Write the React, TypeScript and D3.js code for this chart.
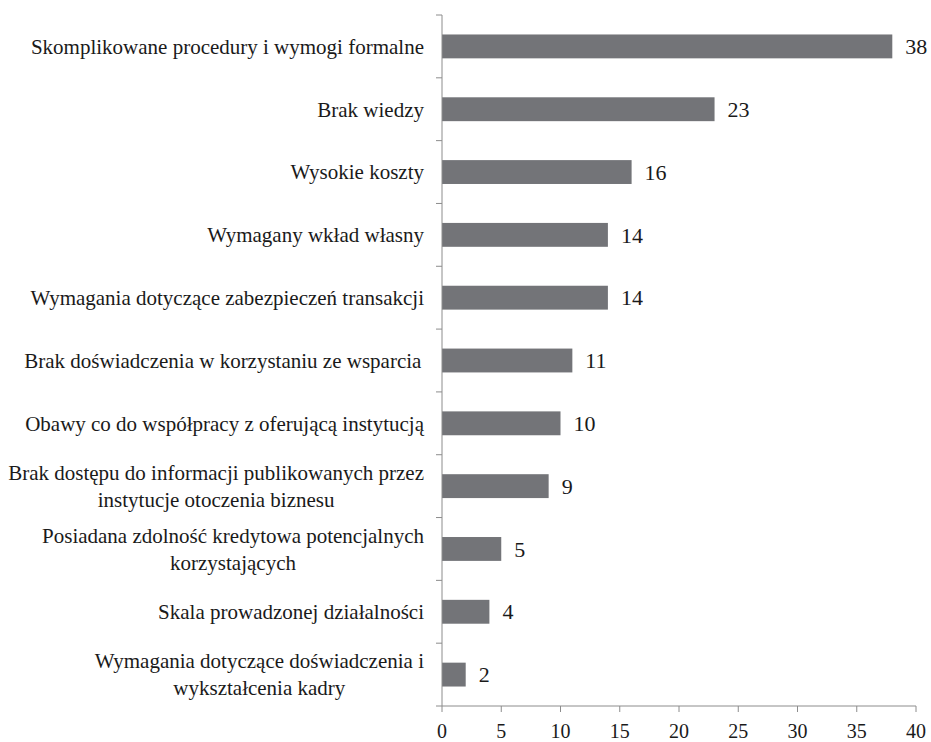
import { useMemo } from "react";
import * as d3 from "d3";

const categories = [
  ["Skomplikowane procedury i wymogi formalne"],
  ["Brak wiedzy"],
  ["Wysokie koszty"],
  ["Wymagany wkład własny"],
  ["Wymagania dotyczące zabezpieczeń transakcji"],
  ["Brak doświadczenia w  korzystaniu ze wsparcia"],
  ["Obawy co do współpracy z oferującą instytucją"],
  ["Brak dostępu do informacji publikowanych przez", "instytucje otoczenia biznesu"],
  ["Posiadana zdolność kredytowa potencjalnych", "korzystających"],
  ["Skala prowadzonej działalności"],
  ["Wymagania dotyczące doświadczenia i", "wykształcenia kadry"],
];
const values = [38, 23, 16, 14, 14, 11, 10, 9, 5, 4, 2];
const xTicks = [0, 5, 10, 15, 20, 25, 30, 35, 40];

const FONT = "Liberation Serif, Tinos, Times New Roman, DejaVu Serif, serif";
const LABEL_SIZE = 21;
const WIDTH = 931;
const HEIGHT = 742;
const MARGIN = { top: 15, left: 442, right: 15, bottom: 36 };

function measure(text: string, size: number) {
  const ctx = document.createElement("canvas").getContext("2d");
  if (!ctx) return text.length * size * 0.45;
  ctx.font = `${size}px ${FONT}`;
  return ctx.measureText(text).width;
}

export default function App() {
  const x = d3.scaleLinear().domain([0, 40]).range([MARGIN.left, WIDTH - MARGIN.right]);
  const y = d3
    .scaleBand<number>()
    .domain(d3.range(categories.length))
    .range([MARGIN.top, HEIGHT - MARGIN.bottom])
    .paddingInner(0.62)
    .paddingOuter(0.31);
  const step = y.step();
  const top = MARGIN.top;
  const bottom = HEIGHT - MARGIN.bottom;

  const labelWidths = useMemo(
    () => categories.map((lines) => Math.max(...lines.map((l) => measure(l, LABEL_SIZE)))),
    []
  );

  const labelRight = MARGIN.left - 18;
  const lineH = 27;

  return (
    <svg width={WIDTH} height={HEIGHT} style={{ position: "absolute", left: 0, top: 0, background: "#fff" }}>
      {/* bars */}
      {values.map((v, i) => (
        <g key={i}>
          <rect x={x(0)} y={y(i)} width={x(v) - x(0)} height={y.bandwidth()} fill="#737478" />
          <text
            x={x(v) + 13}
            y={(y(i) ?? 0) + y.bandwidth() / 2}
            dy="0.35em"
            fontFamily={FONT}
            fontSize={22}
            fill="#1a1a1a"
          >
            {v}
          </text>
        </g>
      ))}

      {/* category labels */}
      {categories.map((lines, i) => {
        const cy = (y(i) ?? 0) + y.bandwidth() / 2;
        const w = labelWidths[i];
        const cx = labelRight - w / 2;
        const start = cy - ((lines.length - 1) * lineH) / 2;
        return (
          <text key={i} fontFamily={FONT} fontSize={LABEL_SIZE} fill="#1a1a1a" textAnchor="middle">
            {lines.map((l, j) => (
              <tspan key={j} x={cx} y={start + j * lineH} dy="0.35em">
                {l}
              </tspan>
            ))}
          </text>
        );
      })}

      {/* y axis */}
      <line x1={x(0)} x2={x(0)} y1={top} y2={bottom} stroke="#8c8c8c" strokeWidth={1} />
      {d3.range(categories.length + 1).map((i) => (
        <line
          key={i}
          x1={x(0) - 6}
          x2={x(0)}
          y1={top + i * step}
          y2={top + i * step}
          stroke="#8c8c8c"
        />
      ))}

      {/* x axis */}
      <line x1={x(0)} x2={x(40)} y1={bottom} y2={bottom} stroke="#8c8c8c" />
      {xTicks.map((t) => (
        <g key={t}>
          <line x1={x(t)} x2={x(t)} y1={bottom} y2={bottom + 6} stroke="#8c8c8c" />
          <text
            x={x(t)}
            y={bottom + 25}
            dy="0.35em"
            textAnchor="middle"
            fontFamily={FONT}
            fontSize={20}
            fill="#1a1a1a"
          >
            {t}
          </text>
        </g>
      ))}
    </svg>
  );
}
